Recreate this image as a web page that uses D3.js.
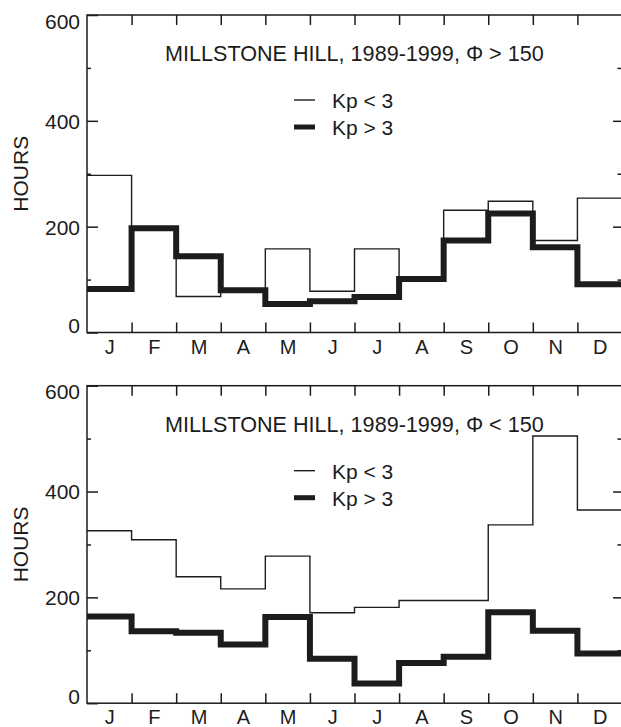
<!DOCTYPE html>
<html>
<head>
<meta charset="utf-8">
<script src="https://cdn.jsdelivr.net/npm/d3@7"></script>
<style>
  html, body { margin: 0; padding: 0; background: #fff; }
  svg { display: block; font-family: "Liberation Sans", Arial, sans-serif; }
</style>
</head>
<body>
<svg id="chart" width="621" height="727"></svg>
<script>
// month labels along the bottom
const months = ["J", "F", "M", "A", "M", "J", "J", "A", "S", "O", "N", "D"];
const yMajorTicks = [0, 200, 400, 600];
const yMinorTicks = [100, 300, 500];

// upper panel: solar flux > 150
const highFluxTitle = "MILLSTONE HILL, 1989-1999, \u03A6 > 150";
const highFluxKpLow = [297, 197, 68, 78, 158, 78, 158, 100, 231, 248, 174, 254];
const highFluxKpHigh = [82, 197, 144, 80, 54, 59, 67, 101, 174, 225, 161, 91];

// lower panel: solar flux < 150
const lowFluxTitle = "MILLSTONE HILL, 1989-1999, \u03A6 < 150";
const lowFluxKpLow = [326, 309, 239, 216, 278, 171, 181, 194, 194, 337, 505, 365];
const lowFluxKpHigh = [164, 136, 133, 111, 163, 84, 37, 76, 88, 172, 137, 94];

const legendLabels = ["Kp < 3", "Kp > 3"];

const ink = "#1c1c1c";
const svg = d3.select("#chart");

const display = {
    left: 87,
    right: 622,
    panelHeight: 317.5
};

const x = d3.scaleLinear().domain([0, 12]).range([display.left, display.right]);

function drawPanel(top, title, kpLow, kpHigh){
    const bottom = top + display.panelHeight;
    const y = d3.scaleLinear().domain([0, 600]).range([bottom, top]);
    const g = svg.append("g");

    // frame
    g.append("rect")
        .attr("x", display.left)
        .attr("y", top)
        .attr("width", display.right - display.left)
        .attr("height", bottom - top)
        .attr("fill", "none")
        .attr("stroke", ink)
        .attr("stroke-width", 1.5);

    // left axis, major ticks with labels
    const left = g.append("g")
        .attr("transform", `translate(${display.left},0)`)
        .call(d3.axisLeft(y).tickValues(yMajorTicks).tickSize(-11).tickSizeOuter(0).tickPadding(7))
    left.select(".domain").remove();
    left.selectAll("line").attr("stroke", ink).attr("stroke-width", 1.5);
    left.selectAll("text")
        .attr("font-size", 21)
        .attr("font-family", "Liberation Sans, Arial, sans-serif")
        .attr("fill", ink)
        .attr("dy", d => d === 600 ? "0.62em" : d === 0 ? "0em" : "0.35em");

    // left axis minor ticks
    const leftMinor = g.append("g")
        .attr("transform", `translate(${display.left},0)`)
        .call(d3.axisLeft(y).tickValues(yMinorTicks).tickSize(-4).tickSizeOuter(0).tickFormat(""));
    leftMinor.select(".domain").remove();
    leftMinor.selectAll("line").attr("stroke", ink).attr("stroke-width", 1.5);

    // right axis ticks (inside)
    const right = g.append("g")
        .attr("transform", `translate(${display.right},0)`)
        .call(d3.axisRight(y).tickValues([200, 400]).tickSize(-9).tickSizeOuter(0).tickFormat(""));
    right.select(".domain").remove();
    right.selectAll("line").attr("stroke", ink).attr("stroke-width", 1.5);
    const rightMinor = g.append("g")
        .attr("transform", `translate(${display.right},0)`)
        .call(d3.axisRight(y).tickValues(yMinorTicks).tickSize(-4.5).tickSizeOuter(0).tickFormat(""));
    rightMinor.select(".domain").remove();
    rightMinor.selectAll("line").attr("stroke", ink).attr("stroke-width", 1.5);

    // month boundaries, bottom and top
    const bottomTicks = g.append("g")
        .attr("transform", `translate(0,${bottom})`)
        .call(d3.axisBottom(x).tickValues(d3.range(1, 12)).tickSize(-10).tickSizeOuter(0).tickFormat(""));
    bottomTicks.select(".domain").remove();
    bottomTicks.selectAll("line").attr("stroke", ink).attr("stroke-width", 1.5);

    const topTicks = g.append("g")
        .attr("transform", `translate(0,${top})`)
        .call(d3.axisTop(x).tickValues(d3.range(1, 12)).tickSize(-10).tickSizeOuter(0).tickFormat(""));
    topTicks.select(".domain").remove();
    topTicks.selectAll("line").attr("stroke", ink).attr("stroke-width", 1.5);

    // month labels
    const monthAxis = g.append("g")
        .attr("transform", `translate(0,${bottom})`)
        .call(d3.axisBottom(x).tickValues(d3.range(12).map(i => i + 0.5)).tickSize(0).tickPadding(7)
            .tickFormat(d => months[Math.floor(d)]));
    monthAxis.select(".domain").remove();
    monthAxis.selectAll("text")
        .attr("font-size", 20)
        .attr("font-family", "Liberation Sans, Arial, sans-serif")
        .attr("fill", ink);

    // y title
    g.append("text")
        .attr("transform", `translate(28,${(top + bottom) / 2}) rotate(-90)`)
        .attr("text-anchor", "middle")
        .attr("font-size", 21)
        .attr("fill", ink)
        .text("HOURS");

    // step lines
    const step = d3.line()
        .x(d => x(d[0]))
        .y(d => y(d[1]))
        .curve(d3.curveStepAfter);
    const toPoints = vals => vals.map((v, i) => [i, v]).concat([[12, vals[vals.length - 1]]]);

    g.append("path")
        .datum(toPoints(kpLow))
        .attr("d", step)
        .attr("fill", "none")
        .attr("stroke", ink)
        .attr("stroke-width", 1.4);

    g.append("path")
        .datum(toPoints(kpHigh))
        .attr("d", step)
        .attr("fill", "none")
        .attr("stroke", ink)
        .attr("stroke-width", 6)
        .attr("stroke-linejoin", "miter");

    // panel title
    g.append("text")
        .attr("x", 165)
        .attr("y", top + 46)
        .attr("font-size", 21.6)
        .attr("fill", ink)
        .text(title);

    // legend
    const legend = g.append("g").attr("transform", `translate(294,${top + 85})`);
    legend.selectAll("line")
        .data(legendLabels)
        .join("line")
            .attr("x1", 0)
            .attr("x2", 21)
            .attr("y1", (_, i) => i * 27)
            .attr("y2", (_, i) => i * 27)
            .attr("stroke", ink)
            .attr("stroke-width", (_, i) => i === 0 ? 1.4 : 5);
    legend.selectAll("text")
        .data(legendLabels)
        .join("text")
            .attr("x", 38)
            .attr("y", (_, i) => i * 27 + 8)
            .attr("font-size", 21)
            .attr("fill", ink)
            .text(d => d);
}

drawPanel(15, highFluxTitle, highFluxKpLow, highFluxKpHigh);
drawPanel(385.7, lowFluxTitle, lowFluxKpLow, lowFluxKpHigh);
</script>
</body>
</html>
